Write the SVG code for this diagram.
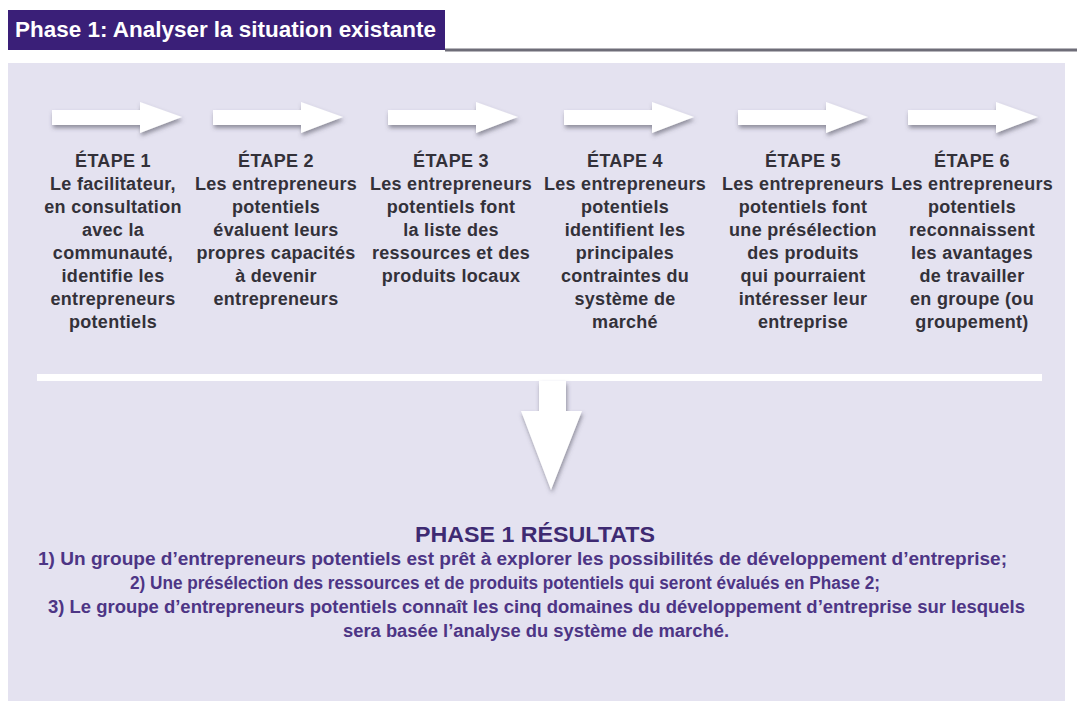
<svg xmlns="http://www.w3.org/2000/svg" xmlns:xlink="http://www.w3.org/1999/xlink" width="1077" height="701" viewBox="0 0 1077 701">
<style>
.step{font-family:"Liberation Sans",Arial,sans-serif;font-weight:bold;font-size:18px;fill:#333139;text-anchor:middle;letter-spacing:0.3px}
.res{font-family:"Liberation Sans",Arial,sans-serif;font-weight:bold;font-size:18px;fill:#4d3585;text-anchor:start}
.restitle{font-family:"Liberation Sans",Arial,sans-serif;font-weight:bold;font-size:22px;fill:#3e2a72}
.title{font-family:"Liberation Sans",Arial,sans-serif;font-weight:bold;font-size:22px;fill:#ffffff}
.arrow{fill:#ffffff;filter:url(#sh)}
</style>
<defs>
<filter id="sh" x="-20%" y="-40%" width="140%" height="200%">
<feDropShadow dx="1" dy="3" stdDeviation="2" flood-color="#4a4a55" flood-opacity="0.55"/>
</filter>
<path id="harrow" d="M0,9 H88 V1 L130,16 L88,32 V24 H0 Z"/>
</defs>
<rect x="0" y="0" width="1077" height="701" fill="#ffffff"/>
<rect x="8" y="63" width="1057" height="638" fill="#e4e2f0"/>
<g id="header">
<rect x="8" y="10" width="437" height="40" fill="#3a1f78"/>
<rect x="445" y="48.5" width="632" height="3" fill="#6e6d78"/>
<text class="title" x="15" y="37" textLength="421" lengthAdjust="spacingAndGlyphs">Phase 1: Analyser la situation existante</text>
</g>
<g id="connectors">
<use xlink:href="#harrow" class="arrow" x="52" y="101"/>
<use xlink:href="#harrow" class="arrow" x="213" y="101"/>
<use xlink:href="#harrow" class="arrow" x="388" y="101"/>
<use xlink:href="#harrow" class="arrow" x="564" y="101"/>
<use xlink:href="#harrow" class="arrow" x="738" y="101"/>
<use xlink:href="#harrow" class="arrow" x="908" y="101"/>
<rect x="37" y="374" width="1005" height="7" fill="#ffffff"/>
<path class="arrow" d="M539,381 H566 V411 H582 L551,490 L521,411 H539 Z"/>
</g>
<g id="step1">
<text class="step" x="113" y="167">ÉTAPE 1</text>
<text class="step" x="113" y="190">Le facilitateur,</text>
<text class="step" x="113" y="213">en consultation</text>
<text class="step" x="113" y="236">avec la</text>
<text class="step" x="113" y="259">communauté,</text>
<text class="step" x="113" y="282">identifie les</text>
<text class="step" x="113" y="305">entrepreneurs</text>
<text class="step" x="113" y="328">potentiels</text>
</g>
<g id="step2">
<text class="step" x="276" y="167">ÉTAPE 2</text>
<text class="step" x="276" y="190">Les entrepreneurs</text>
<text class="step" x="276" y="213">potentiels</text>
<text class="step" x="276" y="236">évaluent leurs</text>
<text class="step" x="276" y="259">propres capacités</text>
<text class="step" x="276" y="282">à devenir</text>
<text class="step" x="276" y="305">entrepreneurs</text>
</g>
<g id="step3">
<text class="step" x="451" y="167">ÉTAPE 3</text>
<text class="step" x="451" y="190">Les entrepreneurs</text>
<text class="step" x="451" y="213">potentiels font</text>
<text class="step" x="451" y="236">la liste des</text>
<text class="step" x="451" y="259">ressources et des</text>
<text class="step" x="451" y="282">produits locaux</text>
</g>
<g id="step4">
<text class="step" x="625" y="167">ÉTAPE 4</text>
<text class="step" x="625" y="190">Les entrepreneurs</text>
<text class="step" x="625" y="213">potentiels</text>
<text class="step" x="625" y="236">identifient les</text>
<text class="step" x="625" y="259">principales</text>
<text class="step" x="625" y="282">contraintes du</text>
<text class="step" x="625" y="305">système de</text>
<text class="step" x="625" y="328">marché</text>
</g>
<g id="step5">
<text class="step" x="803" y="167">ÉTAPE 5</text>
<text class="step" x="803" y="190">Les entrepreneurs</text>
<text class="step" x="803" y="213">potentiels font</text>
<text class="step" x="803" y="236">une présélection</text>
<text class="step" x="803" y="259">des produits</text>
<text class="step" x="803" y="282">qui pourraient</text>
<text class="step" x="803" y="305">intéresser leur</text>
<text class="step" x="803" y="328">entreprise</text>
</g>
<g id="step6">
<text class="step" x="972" y="167">ÉTAPE 6</text>
<text class="step" x="972" y="190">Les entrepreneurs</text>
<text class="step" x="972" y="213">potentiels</text>
<text class="step" x="972" y="236">reconnaissent</text>
<text class="step" x="972" y="259">les avantages</text>
<text class="step" x="972" y="282">de travailler</text>
<text class="step" x="972" y="305">en groupe (ou</text>
<text class="step" x="972" y="328">groupement)</text>
</g>
<g id="results">
<text class="restitle" x="415" y="542" textLength="240" lengthAdjust="spacingAndGlyphs">PHASE 1 RÉSULTATS</text>
<text class="res" x="38" y="565" textLength="969" lengthAdjust="spacingAndGlyphs">1) Un groupe d’entrepreneurs potentiels est prêt à explorer les possibilités de développement d’entreprise;</text>
<text class="res" x="130" y="589" textLength="750" lengthAdjust="spacingAndGlyphs">2) Une présélection des ressources et de produits potentiels qui seront évalués en Phase 2;</text>
<text class="res" x="48" y="613" textLength="977" lengthAdjust="spacingAndGlyphs">3) Le groupe d’entrepreneurs potentiels connaît les cinq domaines du développement d’entreprise sur lesquels</text>
<text class="res" x="343" y="637" textLength="386" lengthAdjust="spacingAndGlyphs">sera basée l’analyse du système de marché.</text>
</g>
</svg>
